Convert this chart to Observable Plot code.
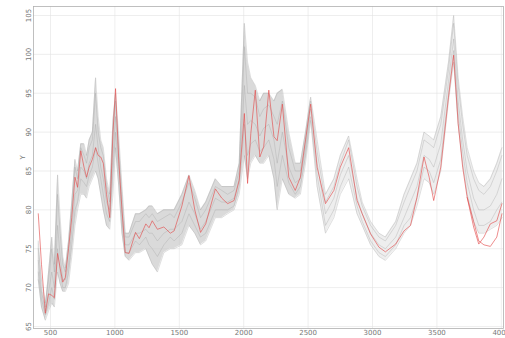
<!DOCTYPE html>
<html>
<head>
<meta charset="utf-8">
<script src="https://cdn.jsdelivr.net/npm/d3@7"></script>
<script src="https://cdn.jsdelivr.net/npm/@observablehq/plot@0.6"></script>
<style>
  html, body { margin: 0; padding: 0; background: #fff; }
  #chart { width: 505px; height: 338px; overflow: hidden; }
</style>
</head>
<body>
<div id="chart"></div>
<script>
// Wavenumber positions (shared by all series)
const X = [405,430,460,485,510,530,555,575,595,615,640,665,690,710,735,760,780,800,825,850,
  870,890,910,935,960,985,1005,1030,1055,1080,1110,1160,1190,1240,1265,1290,1330,1380,1430,1460,
  1520,1575,1620,1665,1705,1780,1830,1875,1925,1965,2005,2030,2055,2090,2125,2155,2195,2235,2260,2300,
  2350,2400,2440,2480,2520,2570,2635,2700,2750,2815,2880,2920,2985,3050,3100,3180,3245,3295,3345,3400,
  3440,3475,3530,3590,3630,3665,3700,3735,3785,3825,3865,3915,3965,4005];

// Highlighted (red) spectrum
const red1 = [79.5,73,66.7,69.2,69.0,68.7,74.4,72.5,70.7,71.3,75,79,84.2,82.9,87.6,85.5,84.2,85.5,86.5,88,
  87,86.8,86,82,79,90,95.6,86.3,80,74.5,74.4,77.1,76.3,78.2,77.7,78.6,77.5,77.8,77.0,77.3,
  80.5,84.4,80,77.1,78.2,82.7,81.5,80.8,81.2,83.8,92.4,83.4,89.8,95.4,86.8,88.1,95.4,89.4,88.9,93.6,
  84.2,82.5,84.2,89,93.6,85.5,80.8,82.5,85.5,88,81.2,79.5,76.9,75.2,74.6,75.6,77.3,78,81.6,86.8,
  84.2,81.2,85.5,94.5,99.9,91.1,85.5,81.6,77.8,75.6,76.5,78.2,78.6,80.8];
// Second red spectrum (visible apart from the first only at the right end)
const red2X = [3735,3785,3825,3865,3915,3965,4005];
const red2 = [81.6,78.5,76,75.5,75.3,76.5,79.5];

// Grey spectra
const gHi = [76,70,67.5,72,76.5,73,84.5,79,74,72.5,76,81,86.5,85,88.5,88.5,87,89,90,97,
  92,89,88,84,82,91.5,95,89.5,83,77,77,79.5,79.5,80,80.5,80.5,79.5,80,80,80,
  82,84.5,82.5,80,81,84,83,83,83,86,104,99,97,96,94,95,95,94,95,95.5,
  90,86,86,90,94.5,89,82,84,87,89.5,84,81,78.5,77,76.5,78.5,82,84,86,90,
  89.5,89,92,99,105,97,92,88,85,83.5,83,84,86,88];
const gA = [75,71,68,71,75,72,82,77,73,72,75,80,85.5,84,88,87,86,88,89,95,
  90,88,87,83,81,90,94,88,82,76.5,76.5,78.5,78.5,79.5,79,79.5,78.5,79,79.5,79,
  81,83.5,81.5,79,80,83,82.5,82,82.5,85,101,95,95,94.5,92,93,93.5,92,91,94,
  88,85,85,89,94,87.5,81,83,86,89,83,80.5,78,76.5,76,78,81,83,85,89,
  88.5,88,91,98,104,96,91,87,84,82.5,82,83,85,87];
const gB = [73.5,69.5,67,69.5,72,70,78,74,71,71,73,77.5,82,82.5,85.5,85,84,86,87,91,
  88,85.5,84,81,80,87,92,86.5,80,75.5,75.5,77,77,77.5,77,77,76,77,77.5,77.5,
  78.5,81,79.5,77.5,78.5,81.5,81,81,81.5,84,96,91,91.5,91,89.5,90.5,91,89,86,90,
  85.5,83.5,84,88,93,86,79.5,81.5,84.5,87,81.5,79.5,77,75.5,75,76.5,79,81,83,87,
  86.5,85.5,88.5,96.5,102,94,89,85,81.5,80,80,80.5,82,84];
const gC = [72,68.5,66.5,68,70,68.5,75,72,70,70,72,75.5,80,81,84,83.5,83,84.5,85.5,88,
  86,84,82,79.5,78.5,85,90,85,78.5,74.5,74.5,76,75.5,76.5,75.5,75,74,75.5,76.5,76,
  77,79.5,78,76.5,77,80,80,80,80.5,83,91,87,88.5,89,87.5,88,89,86.5,83,87,
  83.5,82,83,87,92,84.5,78,80,83,85.5,80.5,78.5,76,74.5,74,75.5,78,79,81.5,85.5,
  85,83.5,86.5,95,100.5,92.5,87.5,83.5,80,78,78,78.5,80,81];
const gLo = [71,67.5,65.8,67,68,67.5,72,70.5,69.5,69.5,70.5,74,78,80,82,82,81.5,83,84,85,
  84,82,80,78,77.5,82,88,83,77,74,73.5,74.5,74.5,75,74,73,72,74.5,75,75,
  75.5,78,77,75.5,76,79,79,79.5,80,82,87,84,86,87,86,86,87,84,80,84,
  82,81.5,82,86,91.5,83,77,79,82,84,79.5,78,75.5,74,73.5,75,77,78,80.5,84,
  83.5,82,85,94,99,91,86,82,78.5,77,77,77.5,78,79];

const xTicks = [500,1000,1500,2000,2500,3000,3500,4000];
const yTicks = [65,70,75,80,85,90,95,100,105];

const band = X.map((x, i) => ({x, lo: gLo[i], hi: gHi[i]}));
const bandNoisy = band.filter(d => d.x <= 2520);
const bandSmooth = band.filter(d => d.x >= 2520);
const greys = [gHi, gA, gB, gC, gLo].flatMap((s, k) => X.map((x, i) => ({x, y: s[i], k})));
const reds = X.map((x, i) => ({x, y: red1[i]}));
const reds2 = red2X.map((x, i) => ({x, y: red2[i]}));

const chart = Plot.plot({
  width: 505,
  height: 338,
  marginLeft: 33,
  marginRight: 2,
  marginTop: 6,
  marginBottom: 10,
  style: {fontFamily: "DejaVu Sans", fontSize: "7px", color: "#777", background: "#fff"},
  x: {domain: [368, 4017]},
  y: {domain: [64.74, 106.16]},
  marks: [
    Plot.gridX(xTicks, {stroke: "#e2e2e2", strokeOpacity: 1, strokeWidth: 0.6}),
    Plot.gridY(yTicks, {stroke: "#e2e2e2", strokeOpacity: 1, strokeWidth: 0.6}),
    Plot.areaY(bandNoisy, {x: "x", y1: "lo", y2: "hi", fill: "#c2c2c2", fillOpacity: 0.6}),
    Plot.areaY(bandSmooth, {x: "x", y1: "lo", y2: "hi", fill: "#dedede", fillOpacity: 0.5}),
    Plot.lineY(greys, {x: "x", y: "y", z: "k", stroke: "#a6a6a6", strokeOpacity: 0.6, strokeWidth: 0.6}),
    Plot.lineY(reds2, {x: "x", y: "y", stroke: "#e34a4a", strokeOpacity: 0.7, strokeWidth: 0.9}),
    Plot.lineY(reds, {x: "x", y: "y", stroke: "#e34a4a", strokeOpacity: 0.7, strokeWidth: 0.9}),
    Plot.frame({stroke: "#b0b0b0", strokeWidth: 0.8}),
    Plot.axisX(xTicks, {tickSize: 0, tickPadding: 2, fill: "#777", fontSize: 7, label: null, tickFormat: d => String(d)}),
    Plot.axisY(yTicks, {tickSize: 0, tickPadding: 0, tickRotate: -90, textAnchor: "middle", dx: -3, fill: "#777", fontSize: 7, label: null, tickFormat: d => String(d)}),
    Plot.text(["Y"], {frameAnchor: "left", dx: -11, dy: -8, rotate: -90, fill: "#777", fontSize: 7})
  ]
});
document.getElementById("chart").appendChild(chart);
</script>
</body>
</html>
